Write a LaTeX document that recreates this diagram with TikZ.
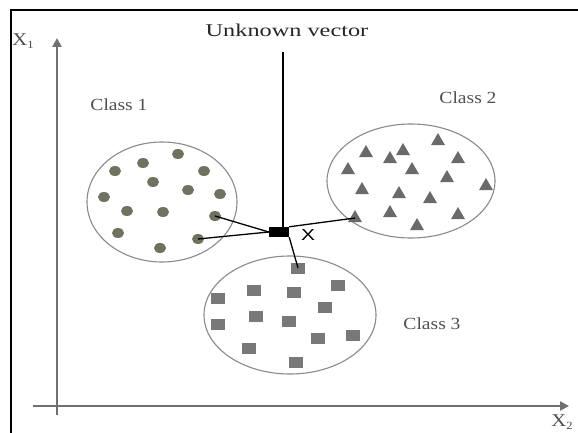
\documentclass[tikz,border=0pt]{standalone}
\usepackage{fontspec}
\setmainfont{Liberation Serif}
\newfontfamily\classfont[FakeStretch=1.15]{Liberation Serif}
\newfontfamily\titlefont[FakeStretch=1.35]{Liberation Serif}
\newfontfamily\xfont[FakeStretch=1.3]{Liberation Sans}
\usetikzlibrary{arrows.meta,shapes.geometric}
\definecolor{axisgray}{HTML}{707070}
\definecolor{ringgray}{HTML}{8A8A8A}
\definecolor{dotcol}{HTML}{6E725F}
\definecolor{tricol}{HTML}{6A6A6A}
\definecolor{sqcol}{HTML}{787878}
\definecolor{txtgray}{HTML}{505050}
\tikzset{
  axisline/.style={draw=axisgray, line width=2.6pt, -{Triangle[length=9pt,width=9pt]}},
  ring/.style={draw=ringgray, line width=1.1pt},
  dot/.style={ellipse, fill=dotcol, minimum width=12pt, minimum height=10pt, inner sep=0pt},
  tri/.style={regular polygon, regular polygon sides=3, fill=tricol, minimum size=16pt, inner sep=0pt},
  sq/.style={rectangle, fill=sqcol, minimum width=14pt, minimum height=11pt, inner sep=0pt},
  lbl/.style={text=txtgray, font=\classfont\fontsize{17}{19}\selectfont, inner sep=0pt},
  axlbl/.style={text=txtgray, font=\classfont\fontsize{18}{19}\selectfont, inner sep=0pt},
  link/.style={draw=black, line width=1.3pt},
}
\begin{document}
\begin{tikzpicture}[x=1pt,y=-1pt]
\useasboundingbox (0,0) rectangle (578,433);
\fill[white] (0,0) rectangle (578,433);
% frame
\draw[line width=2.6pt] (11,433) -- (11,10) -- (578,10);
% axes
\coordinate (yb) at (57,415);
\coordinate (yt) at (57,38);
\coordinate (xl) at (33,406);
\coordinate (xr) at (569,406);
\draw[axisline] (yb) -- (yt);
\draw[axisline] (xl) -- (xr);
\node[axlbl] (x1) at (23,41) {X\raisebox{-0.35ex}{\fontsize{11}{11}\selectfont 1}};
\node[axlbl] (x2) at (562,422) {X\raisebox{-0.35ex}{\fontsize{11}{11}\selectfont 2}};
% rings
\draw[ring] (162,202) ellipse [x radius=75, y radius=60];
\draw[ring] (411,181) ellipse [x radius=84, y radius=57];
\draw[ring] (290,315) ellipse [x radius=86, y radius=59];
% class labels
\node[lbl] (c1) at (119,105) {Class 1};
\node[lbl] (c2) at (468,98) {Class 2};
\node[lbl] (c3) at (432,324) {Class 3};
% class 1 dots
\foreach \x/\y [count=\i] in {178/154,143/163,115/171,204/171,153/182,188/190,220/194,104/197,127/211,163/212,215/216,118/233,198/239,160/248}
  \node[dot] (d\i) at (\x,\y) {};
% class 2 triangles
\foreach \x/\y [count=\i] in {438/141,366/153,403/151,390/159,458/159,348/170,412/170,447/178,486/186,362/190,399/194,430/199,390/213,458/215,355/218,417/226}
  \node[tri] (t\i) at (\x,\y) {};
% class 3 squares
\foreach \x/\y [count=\i] in {298/268,254/290,294/292,338/285,218/298,325/307,256/316,289/321,218/324,318/338,353/335,249/348,296/362}
  \node[sq] (s\i) at (\x,\y) {};
% unknown vector
\node[text=black!85, font=\titlefont\fontsize{18}{20}\selectfont, inner sep=0pt] (uvt) at (287,30) {Unknown vector};
\coordinate (uvtop) at (283,52);
\node[rectangle, fill=black, minimum width=20pt, minimum height=10pt, inner sep=0pt] (uv) at (279,232) {};
\draw[line width=1.6pt] (uvtop) -- (uv.north -| uvtop);
\draw[link] (d11.center) -- (uv.west);
\draw[link] (d13.center) -- (uv.west);
\draw[link] (t15.center) -- (uv.north east);
\draw[link] (s1.center) -- (uv.south east);
\node[font=\xfont\fontsize{16}{16}\selectfont, inner sep=0pt] (xm) at (308,235) {X};
\end{tikzpicture}
\end{document}
